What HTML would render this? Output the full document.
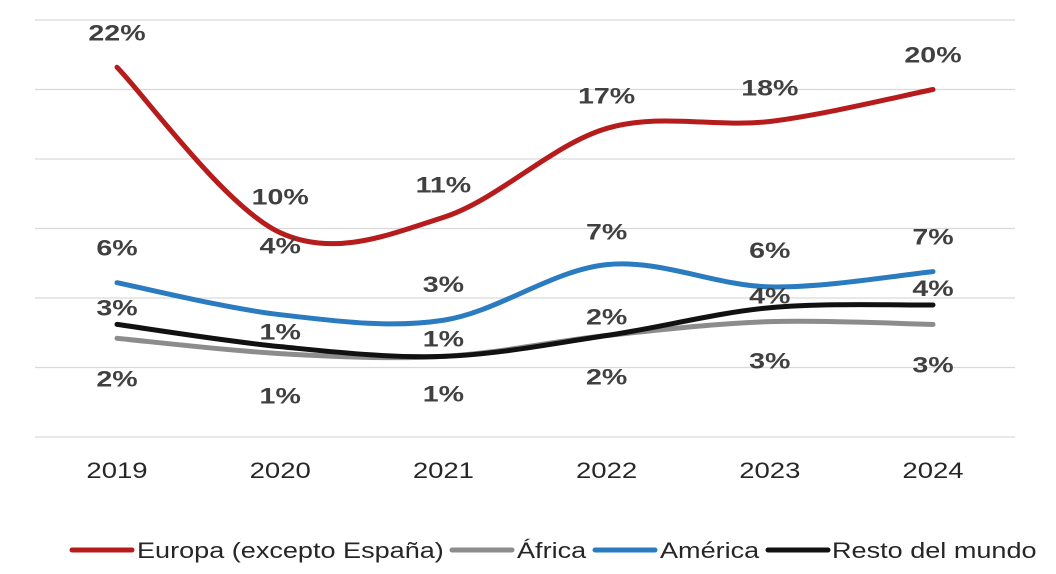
<!DOCTYPE html>
<html><head><meta charset="utf-8"><style>
html,body{margin:0;padding:0;background:#fff;}
svg{display:block;font-family:"Liberation Sans",Arial,sans-serif;}
</style></head><body>
<svg id="chart" width="1056" height="574" viewBox="0 0 1056 574" xmlns="http://www.w3.org/2000/svg">
<g id="grid"></g>
<g id="series"></g>
<g id="labels"></g>
<g id="xaxis"></g>
<g id="legend"></g>
</svg>
<script>
const years = ['2019','2020','2021','2022','2023','2024'];
const europa = [26.6, 14.7, 15.8, 22.2, 22.7, 25.0];
const africa = [7.1, 6.0, 5.8, 7.3, 8.3, 8.1];
const america = [11.1, 8.8, 8.4, 12.4, 10.8, 11.9];
const resto = [8.1, 6.5, 5.8, 7.3, 9.3, 9.5];
const europaLabels = ['22%','10%','11%','17%','18%','20%'];
const africaLabels = ['2%','1%','1%','2%','3%','3%'];
const americaLabels = ['6%','4%','3%','7%','6%','7%'];
const restoLabels = ['3%','1%','1%','2%','4%','4%'];
const gridTicks = [0,5,10,15,20,25,30];

const NS='http://www.w3.org/2000/svg';
const x0=117, xStep=163.2, yBase=437, yPer=13.9;
function xs(i){return x0+i*xStep;}
function ys(v){return yBase-v*yPer;}
function mk(tag,attrs,parent){const e=document.createElementNS(NS,tag);for(const k in attrs)e.setAttribute(k,attrs[k]);parent.appendChild(e);return e;}

const grid=document.getElementById('grid');
gridTicks.forEach(t=>{
  const l=mk('line',{x1:35,x2:1015,y1:ys(t),y2:ys(t),stroke:'#d9d9d9','stroke-width':1.3},grid);
  
  
});

function smoothPath(vals){
  const p=vals.map((v,i)=>[xs(i),ys(v)]);
  let d='M'+p[0][0]+','+p[0][1];
  const t=0.5/3*2;
  for(let i=0;i<p.length-1;i++){
    const a=p[i-1]||p[i], b=p[i], c=p[i+1], e=p[i+2]||c;
    const c1=[b[0]+(c[0]-a[0])*t/2, b[1]+(c[1]-a[1])*t/2];
    const c2=[c[0]-(e[0]-b[0])*t/2, c[1]-(e[1]-b[1])*t/2];
    d+=' C'+c1[0]+','+c1[1]+' '+c2[0]+','+c2[1]+' '+c[0]+','+c[1];
  }
  return d;
}
const series=[
  {name:'europa',vals:europa,labels:europaLabels,color:'#b71c1c',dy:[-35,-36,-33,-33,-34,-35]},
  {name:'africa',vals:africa,labels:africaLabels,color:'#8c8c8c',dy:[40,42,37,41,39,40]},
  {name:'america',vals:america,labels:americaLabels,color:'#2a7bbf',dy:[-35,-69,-36,-33,-37,-35]},
  {name:'resto',vals:resto,labels:restoLabels,color:'#111111',dy:[-17,-15,-18,-19,-12,-17]}
];
const sg=document.getElementById('series'), lg=document.getElementById('labels');
[series[1],series[3],series[2],series[0]].forEach(s=>{
  const p=mk('path',{d:smoothPath(s.vals),fill:'none',stroke:s.color,'stroke-width':5,'stroke-linecap':'round'},sg);
  
  
});
function stext(parent,x,y,str,attrs,anchor,sx){
  const g=mk('g',{transform:'translate('+x+','+y+') scale('+sx+',1)'},parent);
  const a=Object.assign({x:0,y:0,'text-anchor':anchor||'middle'},attrs);
  const t=mk('text',a,g);
  t.textContent=str;
  return t;
}
series.forEach(s=>{
  s.vals.forEach((v,i)=>{
    const t=stext(lg,xs(i),ys(v)+s.dy[i]+8,s.labels[i],{'font-size':22,'font-weight':'bold',fill:'#404040'},'middle',1.3);
    
    
  });
});
const xa=document.getElementById('xaxis');
years.forEach((y,i)=>{
  const t=stext(xa,xs(i),478,y,{'font-size':22,fill:'#262626'},'middle',1.25);
  
  
});
const legendItems=[['Europa (excepto España)','#b71c1c',72,137],['África','#8c8c8c',452,517],['América','#2a7bbf',595,660],['Resto del mundo','#111111',768,832]];
const lgd=document.getElementById('legend');
legendItems.forEach(it=>{
  const g=mk('g',{},lgd);
  
  
  mk('line',{x1:it[2],x2:it[2]+60,y1:550,y2:550,stroke:it[1],'stroke-width':5,'stroke-linecap':'round'},g);
  stext(g,it[3],558,it[0],{'font-size':22,fill:'#262626'},'start',1.23);
});
</script>
</body></html>
